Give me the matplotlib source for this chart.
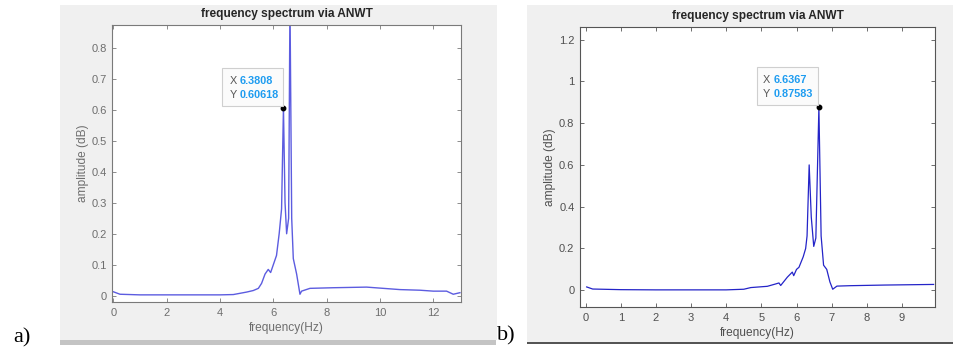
import matplotlib
matplotlib.use("Agg")
import matplotlib.pyplot as plt
from matplotlib.patches import Rectangle

plt.rcParams['font.family'] = ['Liberation Sans', 'DejaVu Sans']

# ---------------- data ----------------
freq_a = [0.0, 0.25, 1.0, 2.0, 3.0, 4.0, 4.5, 4.75, 5.0, 5.25, 5.44, 5.56, 5.69, 5.81, 5.9,
          6.0, 6.12, 6.22, 6.31, 6.3808, 6.44, 6.5, 6.575, 6.625, 6.69, 6.75, 6.875,
          7.0, 7.06, 7.375, 8.25, 9.5, 10.75, 11.5, 12.0, 12.5, 12.75, 13.0]
amp_a = [0.013, 0.005, 0.003, 0.003, 0.003, 0.003, 0.004, 0.008, 0.012, 0.017, 0.024, 0.04, 0.07,
         0.085, 0.075, 0.10, 0.13, 0.20, 0.28, 0.60618, 0.30, 0.20, 0.25, 0.95, 0.25, 0.12, 0.07,
         0.005, 0.015, 0.024, 0.026, 0.028, 0.020, 0.018, 0.015, 0.015, 0.005, 0.010]

freq_b = [0.03, 0.2, 1.0, 2.0, 3.0, 4.0, 4.5, 4.7, 5.17, 5.4, 5.5, 5.55, 5.74, 5.88, 5.92,
          6.0, 6.07, 6.19, 6.26, 6.3, 6.36, 6.42, 6.49, 6.55, 6.6367, 6.7, 6.77, 6.86,
          6.95, 7.03, 7.15, 7.53, 8.5, 9.9]
amp_b = [0.016, 0.006, 0.003, 0.002, 0.002, 0.002, 0.005, 0.013, 0.019, 0.03, 0.035, 0.023, 0.063,
         0.087, 0.07, 0.10, 0.11, 0.16, 0.20, 0.26, 0.60, 0.35, 0.21, 0.25, 0.87583, 0.26, 0.12,
         0.10, 0.04, 0.005, 0.02, 0.022, 0.025, 0.028]

tip_a = (6.3808, 0.60618)
tip_b = (6.6367, 0.87583)

xticks_a = [0, 2, 4, 6, 8, 10, 12]
yticks_a = [0, 0.1, 0.2, 0.3, 0.4, 0.5, 0.6, 0.7, 0.8]
xticks_b = [0, 1, 2, 3, 4, 5, 6, 7, 8, 9]
yticks_b = [0, 0.2, 0.4, 0.6, 0.8, 1.0, 1.2]

title = "frequency spectrum via ANWT"
xlabel = "frequency(Hz)"
ylabel = "amplitude (dB)"

# ---------------- layout ----------------
W, H = 954, 352
fig = plt.figure(figsize=(W / 100, H / 100), dpi=100)
fig.patch.set_facecolor('white')


def px_rect(x0, y0, x1, y1):
    """pixel box (top-left origin) -> figure fraction rect"""
    return [x0 / W, 1 - y1 / H, (x1 - x0) / W, (y1 - y0) / H]


def bg(x0, y0, x1, y1, color):
    r = px_rect(x0, y0, x1, y1)
    fig.add_artist(Rectangle((r[0], r[1]), r[2], r[3], transform=fig.transFigure,
                             facecolor=color, edgecolor='none', zorder=-10))


# panel backgrounds
bg(60, 5, 497, 340, '#f0f0f0')
bg(60, 340, 496, 345, '#c4c4c4')
bg(527, 5, 954, 342, '#f0f0f0')
bg(527, 342, 954, 343.5, '#555555')


def make_panel(rect_px, freq, amp, xlim, ylim, xt, yt, tip, box, txt_pos, tip_txt,
               line_color, spine_color, tick_color, lw, title_pad, xpad, ypad, xlp, ylp):
    ax = fig.add_axes(px_rect(*rect_px))
    ax.set_facecolor('white')
    ax.plot(freq, amp, color=line_color, lw=lw)
    ax.plot([tip[0]], [tip[1]], 'o', color='black', ms=3.2, zorder=5)
    ax.set_xlim(*xlim)
    ax.set_ylim(*ylim)
    ax.set_xticks(xt)
    ax.set_yticks(yt)
    ax.set_xticklabels([f"{v:g}" for v in xt])
    ax.set_yticklabels([f"{v:g}" for v in yt])
    ax.tick_params(direction='in', length=3, width=0.6, top=True, right=True,
                   colors=spine_color, labelcolor=tick_color, labelsize=8)
    ax.tick_params(axis='x', pad=xpad)
    ax.tick_params(axis='y', pad=ypad)
    for s in ax.spines.values():
        s.set_color(spine_color)
        s.set_linewidth(0.8)
    ax.set_title(title, fontsize=8.6, fontweight='bold', color='#262626', pad=title_pad)
    ax.set_xlabel(xlabel, fontsize=8.6, color=tick_color, labelpad=xlp)
    ax.set_ylabel(ylabel, fontsize=8.6, color=tick_color, labelpad=ylp)
    # datatip box
    ax.add_patch(Rectangle((box[0], box[1]), box[2] - box[0], box[3] - box[1],
                           transform=ax.transAxes, facecolor='#fbfbfb',
                           edgecolor='#cfcfcf', lw=0.8, zorder=6))
    tx, ty1, ty2, dx = txt_pos
    ax.text(tx, ty1, "X", transform=ax.transAxes, fontsize=7.8, color='#555555',
            va='center', ha='left', zorder=7)
    ax.text(tx + dx, ty1, tip_txt[0], transform=ax.transAxes, fontsize=7.8,
            color='#1e9cf0', fontweight='bold', va='center', ha='left', zorder=7)
    ax.text(tx, ty2, "Y", transform=ax.transAxes, fontsize=7.8, color='#555555',
            va='center', ha='left', zorder=7)
    ax.text(tx + dx, ty2, tip_txt[1], transform=ax.transAxes, fontsize=7.8,
            color='#1e9cf0', fontweight='bold', va='center', ha='left', zorder=7)
    return ax


make_panel((112, 25, 461, 302), freq_a, amp_a, (-0.05, 13.04), (-0.02, 0.873),
           xticks_a, yticks_a, tip_a, (0.315, 0.708, 0.49, 0.845),
           (0.338, 0.798, 0.747, 0.028), ("6.3808", "0.60618"),
           '#5c5ce0', '#7a7a7a', '#6e6e6e', 1.0, 5.5, 4.5, 3.5, 2.5, 2)

make_panel((580, 27, 935, 307), freq_b, amp_b, (-0.16, 9.94), (-0.08, 1.26),
           xticks_b, yticks_b, tip_b, (0.498, 0.720, 0.670, 0.858),
           (0.515, 0.811, 0.760, 0.031), ("6.6367", "0.87583"),
           '#2424c8', '#555555', '#505050', 0.9, 5.5, 4.5, 4, 2.5, 2)

# panel labels
fig.text(13 / W, 1 - 338 / H, "a)", fontsize=16, family=['Liberation Serif'],
         va='center', ha='left', color='black')
fig.text(497 / W, 1 - 336 / H, "b)", fontsize=16, family=['Liberation Serif'],
         va='center', ha='left', color='black')

fig.savefig("out.png", dpi=100, facecolor='white')
